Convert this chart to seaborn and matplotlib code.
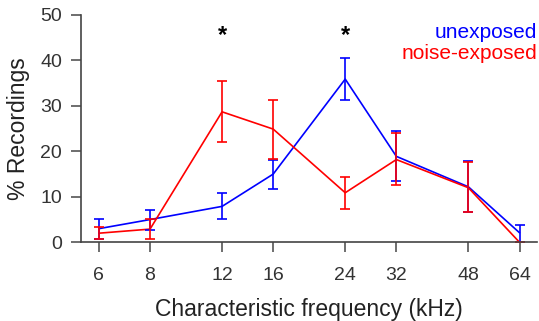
import numpy as np
import pandas as pd
import seaborn as sns
import matplotlib.pyplot as plt

# characteristic frequency bins (kHz)
freqs = [6, 8, 12, 16, 24, 32, 48, 64]

# % recordings, mean with lower / upper error bar ends
unexposed = [3.0, 5.0, 7.9, 15.0, 35.9, 18.9, 12.2, 2.1]
unexposed_lo = [0.7, 2.8, 5.1, 11.8, 31.4, 13.5, 6.7, 0.0]
unexposed_hi = [5.2, 7.2, 10.9, 18.2, 40.6, 24.4, 17.8, 3.9]

noise = [2.0, 2.9, 28.7, 24.9, 10.9, 18.2, 12.0, 0.0]
noise_lo = [0.7, 0.8, 22.1, 18.3, 7.3, 12.7, 6.6, 0.0]
noise_hi = [3.4, 5.1, 35.5, 31.4, 14.4, 24.1, 17.7, 0.0]

signif = [12, 24]

sns.set_style("ticks")
plt.rcParams["font.family"] = ["Liberation Sans", "DejaVu Sans"]

df = pd.DataFrame({
    "freq": freqs * 2,
    "pct": unexposed + noise,
    "group": ["unexposed"] * len(freqs) + ["noise-exposed"] * len(freqs),
})
colors = {"unexposed": "#0000ff", "noise-exposed": "#ff0000"}

fig = plt.figure(figsize=(5.39, 3.21), dpi=100)
ax = fig.add_axes([0.1512, 0.2452, 0.845, 0.7081])

sns.lineplot(data=df, x="freq", y="pct", hue="group", palette=colors,
             linewidth=1.2, legend=False, ax=ax)

for name, mean, lo, hi in [("unexposed", unexposed, unexposed_lo, unexposed_hi),
                           ("noise-exposed", noise, noise_lo, noise_hi)]:
    mean = np.array(mean)
    yerr = [mean - np.array(lo), np.array(hi) - mean]
    ax.errorbar(freqs, mean, yerr=yerr, fmt="none", ecolor=colors[name],
                elinewidth=1.2, capsize=3.5, capthick=1.2)

for f in signif:
    ax.text(f, 45.5, "*", ha="center", va="center", fontsize=17,
            fontweight="bold", color="black")

ax.text(1.0, 0.925, "unexposed", transform=ax.transAxes, ha="right", va="center",
        color="#0000ff", fontsize=15)
ax.text(1.0, 0.83, "noise-exposed", transform=ax.transAxes, ha="right", va="center",
        color="#ff0000", fontsize=15)

ax.set_xscale("log")
ax.set_xlim(5.44, 70.6)
ax.set_ylim(0, 50)
ax.set_xticks(freqs)
ax.set_xticklabels([str(f) for f in freqs])
ax.minorticks_off()
ax.set_yticks(range(0, 51, 10))

ax.set_xlabel("Characteristic frequency (kHz)", fontsize=16.5, color="#222222",
              labelpad=10)
ax.set_ylabel("% Recordings", fontsize=16.5, color="#222222", labelpad=7)
ax.tick_params(axis="both", length=7, width=1.2, color="#555555",
               labelsize=14, labelcolor="#333333")
ax.tick_params(axis="x", pad=11)
ax.tick_params(axis="y", pad=7)

sns.despine(ax=ax)
for s in ["left", "bottom"]:
    ax.spines[s].set_color("#444444")
    ax.spines[s].set_linewidth(1.2)

plt.savefig("out.png", dpi=100)
plt.close()
